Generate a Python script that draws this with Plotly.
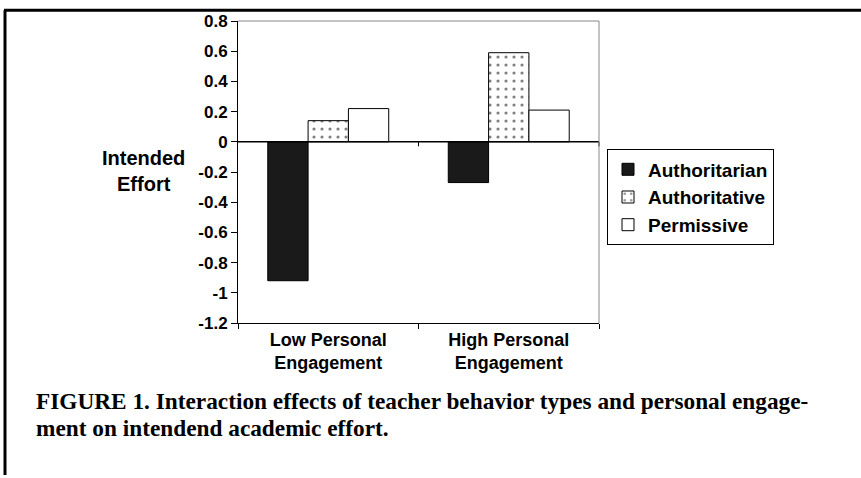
import plotly.graph_objects as go

categories = ["Low Personal<br>Engagement", "High Personal<br>Engagement"]
series_names = ["Authoritarian", "Authoritative", "Permissive"]
authoritarian = [-0.92, -0.27]
authoritative = [0.14, 0.59]
permissive = [0.22, 0.21]
y_tickvals = [0.8, 0.6, 0.4, 0.2, 0, -0.2, -0.4, -0.6, -0.8, -1, -1.2]
y_ticktext = ["0.8", "0.6", "0.4", "0.2", "0", "-0.2", "-0.4", "-0.6", "-0.8", "-1", "-1.2"]
y_title = "Intended<br>Effort"
caption_lines = ["FIGURE 1. Interaction effects of teacher behavior types and personal engage-",
                 "ment on intendend academic effort."]

SANS = "Liberation Sans, Arial, sans-serif"
SERIF = "Liberation Serif, Times New Roman, serif"

fig = go.Figure()
fig.add_trace(go.Bar(name=series_names[0], x=categories, y=authoritarian,
                     marker=dict(color="#1a1a1a", line=dict(color="black", width=1))))
fig.add_trace(go.Bar(name=series_names[1], x=categories, y=authoritative,
                     marker=dict(color="white", line=dict(color="black", width=1),
                                 pattern=dict(shape=".", fgcolor="black", bgcolor="white",
                                              size=8, solidity=0.12))))
fig.add_trace(go.Bar(name=series_names[2], x=categories, y=permissive,
                     marker=dict(color="white", line=dict(color="black", width=1))))

W, H = 861, 478
L, R, T, B = 238, 599, 15, 323
fx = lambda px: (px - L) / (R - L)
fy = lambda py: (B - py) / (B - T)

fig.update_layout(
    width=W, height=H,
    margin=dict(l=L, r=W - R, t=T, b=H - B),
    paper_bgcolor="white", plot_bgcolor="white",
    barmode="group", bargap=0.33, bargroupgap=0,
    showlegend=True,
    legend=dict(x=fx(607), y=fy(146), xanchor="left", yanchor="top",
                bordercolor="black", borderwidth=1, bgcolor="white",
                font=dict(family=SANS, size=19, color="black", weight="bold"),
                itemwidth=30, tracegroupgap=0),
    font=dict(family=SANS, color="black"),
)
fig.update_xaxes(
    showline=True, linecolor="black", linewidth=1,
    ticks="outside", tickson="boundaries", ticklen=5, tickcolor="black",
    tickfont=dict(family=SANS, size=18, color="black", weight="bold"),
    showgrid=False, zeroline=False,
)
fig.update_yaxes(
    range=[-1.2, 0.8], tickvals=y_tickvals, ticktext=y_ticktext,
    showline=True, linecolor="black", linewidth=1,
    ticks="outside", ticklen=6, tickcolor="black",
    tickfont=dict(family=SANS, size=17, color="black", weight="bold"),
    showgrid=False, zeroline=False,
)

# zero line (category axis crossing) with tick marks
fig.add_shape(type="line", xref="paper", yref="y", x0=0, x1=1, y0=0, y1=0,
              line=dict(color="black", width=1.5))
for xp in [0.5, 1.0]:
    fig.add_shape(type="line", xref="paper", yref="y", x0=xp, x1=xp, y0=0, y1=-0.03,
                  line=dict(color="black", width=1))
# gray plot border top and right
fig.add_shape(type="line", xref="paper", yref="paper", x0=0, x1=1, y0=1, y1=1,
              line=dict(color="#888888", width=1))
fig.add_shape(type="line", xref="paper", yref="paper", x0=1, x1=1, y0=0, y1=1,
              line=dict(color="#888888", width=1))

# outer frame (top and left thick lines)
fig.add_shape(type="line", xref="paper", yref="paper", x0=fx(4), x1=fx(861), y0=fy(4), y1=fy(4),
              line=dict(color="black", width=3))
fig.add_shape(type="line", xref="paper", yref="paper", x0=fx(5), x1=fx(5), y0=fy(4), y1=fy(478),
              line=dict(color="black", width=3))

fig.add_annotation(text=y_title, xref="paper", yref="paper", x=fx(143), y=fy(168),
                   xanchor="center", yanchor="middle", showarrow=False, align="center",
                   font=dict(family=SANS, size=20, color="black", weight="bold"))
for i, (line, yc) in enumerate(zip(caption_lines, [403, 430])):
    fig.add_annotation(text=line, xref="paper", yref="paper", x=fx(34), y=fy(yc),
                       xanchor="left", yanchor="middle", showarrow=False, align="left",
                       font=dict(family=SERIF, size=23.3, color="black", weight="bold"))

fig.write_html("out.html", config={"displayModeBar": False},
               post_script="document.body.style.margin='0';")
